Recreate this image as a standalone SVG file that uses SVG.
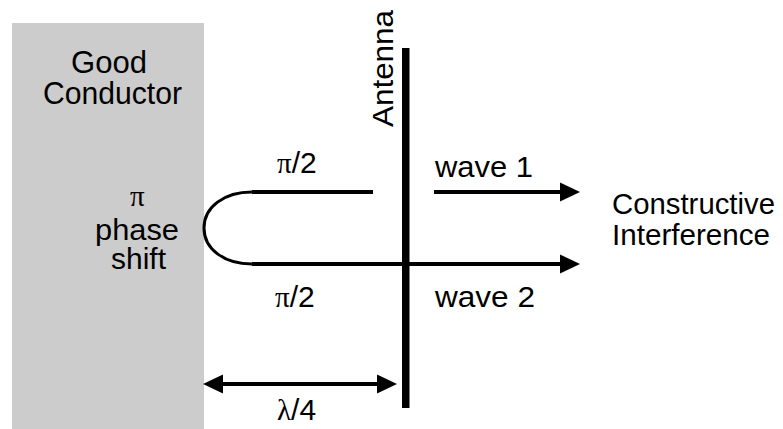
<svg xmlns="http://www.w3.org/2000/svg" width="783" height="429" viewBox="0 0 783 429">
<style>
.t{font-family:"Liberation Sans",Arial,sans-serif;fill:#000;font-size:30px}
.s{font-family:"Liberation Serif","Times New Roman",serif;fill:#000;font-size:29px}
.ln{stroke:#000;stroke-width:4;fill:none}
.ah{fill:#000}
</style>
<rect width="783" height="429" fill="#fff"/>
<g id="conductor">
<rect x="12" y="23" width="192" height="406" fill="#cccccc"/>
<text class="t" x="71" y="72.5" style="font-size:31px" textLength="76" lengthAdjust="spacingAndGlyphs">Good</text>
<text class="t" x="43" y="104" style="font-size:31px" textLength="139" lengthAdjust="spacingAndGlyphs">Conductor</text>
<text class="s" x="130" y="206">π</text>
<text class="t" x="95" y="240" textLength="84" lengthAdjust="spacingAndGlyphs">phase</text>
<text class="t" x="111" y="269" textLength="55" lengthAdjust="spacingAndGlyphs">shift</text>
</g>
<g id="antenna">
<rect x="402" y="48" width="7.5" height="360" fill="#000"/>
<text class="t" transform="translate(393,127) rotate(-90)" style="font-size:29px" textLength="117" lengthAdjust="spacingAndGlyphs">Antenna</text>
</g>
<g id="labels">
<text x="277" y="173"><tspan class="s">π</tspan><tspan class="t">/2</tspan></text>
<text x="275" y="307"><tspan class="s">π</tspan><tspan class="t">/2</tspan></text>
<text class="t" x="435" y="177" textLength="98" lengthAdjust="spacingAndGlyphs">wave 1</text>
<text class="t" x="435" y="307" textLength="100" lengthAdjust="spacingAndGlyphs">wave 2</text>
<text x="277" y="420"><tspan class="s">λ</tspan><tspan class="t">/4</tspan></text>
<text class="t" x="612" y="214" textLength="163" lengthAdjust="spacingAndGlyphs">Constructive</text>
<text class="t" x="612" y="245" textLength="158" lengthAdjust="spacingAndGlyphs">Interference</text>
</g>
<g id="connectors">
<path class="ln" d="M373,192 H252"/>
<path d="M252,192 C224,192 204,207 204,228 C204,249 224,264 252,264" fill="none" stroke="#000" stroke-width="3"/>
<path class="ln" d="M252,264 H562"/>
<polygon class="ah" points="580,264 560,254.5 560,273.5"/>
<path class="ln" d="M434,192 H562"/>
<polygon class="ah" points="580,192 560,182.5 560,201.5"/>
<path class="ln" d="M220,384 H380"/>
<polygon class="ah" points="203,384 223,374.5 223,393.5"/>
<polygon class="ah" points="397,384 377,374.5 377,393.5"/>
</g>
</svg>
